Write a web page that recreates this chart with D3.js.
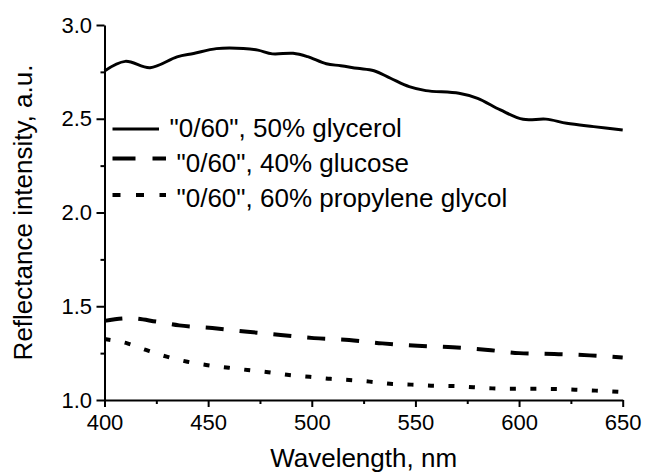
<!DOCTYPE html>
<html>
<head>
<meta charset="utf-8">
<script src="https://cdn.jsdelivr.net/npm/d3@7"></script>
<style>
  html, body { margin: 0; padding: 0; background: #fff; }
  svg { display: block; font-family: "Liberation Sans", Arial, sans-serif; }
</style>
</head>
<body>
<svg id="chart" width="645" height="474"></svg>
<script>
// ---- data ----
const glycerolWl = [400, 410, 422, 435, 443, 454, 467, 474, 481, 491, 498, 507, 514, 522, 530, 538, 547, 555, 571, 580, 591, 602, 613, 623, 636, 650];
const glycerolR  = [2.755, 2.806, 2.772, 2.830, 2.848, 2.874, 2.875, 2.866, 2.846, 2.849, 2.831, 2.793, 2.783, 2.769, 2.756, 2.716, 2.671, 2.650, 2.636, 2.609, 2.547, 2.497, 2.498, 2.476, 2.458, 2.440];

const glucoseWl = [400, 412, 425, 436, 452, 469, 485, 501, 518, 534, 551, 568, 585, 600, 617, 634, 650];
const glucoseR  = [1.422, 1.436, 1.418, 1.398, 1.384, 1.364, 1.347, 1.330, 1.320, 1.302, 1.289, 1.281, 1.267, 1.250, 1.245, 1.238, 1.226];

const propyleneWl = [400, 411, 420, 430, 440, 449, 460, 469, 479, 489, 499, 509, 518, 528, 539, 548, 559, 568, 578, 587, 597, 607, 617, 627, 637, 650];
const propyleneR  = [1.325, 1.302, 1.267, 1.231, 1.204, 1.187, 1.172, 1.160, 1.148, 1.133, 1.124, 1.113, 1.107, 1.098, 1.085, 1.082, 1.076, 1.075, 1.068, 1.062, 1.060, 1.060, 1.059, 1.055, 1.050, 1.042];

const seriesNames = ['"0/60", 50% glycerol', '"0/60", 40% glucose', '"0/60", 60% propylene glycol'];

const xMajorTicks = [400, 450, 500, 550, 600, 650];
const xMinorTicks = [425, 475, 525, 575, 625];
const yMajorTicks = [1.0, 1.5, 2.0, 2.5, 3.0];
const yMinorTicks = [1.25, 1.75, 2.25, 2.75];

const xTitle = "Wavelength, nm";
const yTitle = "Reflectance intensity, a.u.";

// ---- chart ----
const svg = d3.select("#chart");
const x = d3.scaleLinear().domain([400, 650]).range([104.5, 622.7]);
const y = d3.scaleLinear().domain([1.0, 3.0]).range([400, 25]);

function styleAxis(g) {
  g.selectAll("path.domain").attr("stroke", "#000").attr("stroke-width", 2);
  g.selectAll(".tick line").attr("stroke", "#000").attr("stroke-width", 2);
  g.selectAll(".tick text").attr("fill", "#000").attr("font-size", 22)
    .attr("font-family", '"Liberation Sans", Arial, sans-serif');
}

// x minor
svg.append("g").attr("transform", `translate(0,${y(1.0)})`)
  .call(d3.axisBottom(x).tickValues(xMinorTicks).tickSize(4).tickSizeOuter(0).tickFormat(""))
  .call(styleAxis).call(g => g.select("path.domain").remove());
// y minor
svg.append("g").attr("transform", `translate(${x(400)},0)`)
  .call(d3.axisLeft(y).tickValues(yMinorTicks).tickSize(4).tickSizeOuter(0).tickFormat(""))
  .call(styleAxis).call(g => g.select("path.domain").remove());
// x major
svg.append("g").attr("transform", `translate(0,${y(1.0)})`)
  .call(d3.axisBottom(x).tickValues(xMajorTicks).tickSize(7).tickSizeOuter(0).tickPadding(7).tickFormat(d3.format("d")))
  .call(styleAxis);
// y major
svg.append("g").attr("transform", `translate(${x(400)},0)`)
  .call(d3.axisLeft(y).tickValues(yMajorTicks).tickSize(8).tickSizeOuter(0).tickPadding(4.5).tickFormat(d3.format(".1f")))
  .call(styleAxis);

// axis titles
svg.append("text")
  .attr("x", (x(400) + x(650)) / 2).attr("y", 467)
  .attr("text-anchor", "middle").attr("font-size", 26).attr("fill", "#000")
  .text(xTitle);
svg.append("text")
  .attr("transform", `translate(32,${(y(1) + y(3)) / 2}) rotate(-90)`)
  .attr("text-anchor", "middle").attr("font-size", 26).attr("fill", "#000")
  .text(yTitle);

// lines
const mk = (wl, r) => wl.map((w, i) => ({ w, r: r[i] }));
const lineSmooth = d3.line().x(d => x(d.w)).y(d => y(d.r)).curve(d3.curveCatmullRom.alpha(0.5));
const lineMono = d3.line().x(d => x(d.w)).y(d => y(d.r)).curve(d3.curveMonotoneX);

svg.append("path").datum(mk(glycerolWl, glycerolR))
  .attr("d", lineSmooth).attr("fill", "none").attr("stroke", "#000")
  .attr("stroke-width", 3).attr("stroke-linejoin", "round");
svg.append("path").datum(mk(glucoseWl, glucoseR))
  .attr("d", lineMono).attr("fill", "none").attr("stroke", "#000")
  .attr("stroke-width", 4).attr("stroke-dasharray", "18,16");
svg.append("path").datum(mk(propyleneWl, propyleneR))
  .attr("d", lineMono).attr("fill", "none").attr("stroke", "#000")
  .attr("stroke-width", 4).attr("stroke-dasharray", "6,14.5");

// legend
const legendRows = [
  { name: seriesNames[0], ly: 129, ty: 137, tx: 169.5, x2: 159, width: 3, dash: null },
  { name: seriesNames[1], ly: 158.5, ty: 172, tx: 176.5, x2: 166, width: 4, dash: "23,17" },
  { name: seriesNames[2], ly: 195, ty: 207, tx: 176.5, x2: 166, width: 4, dash: "8,15.5" }
];
const lg = svg.append("g");
legendRows.forEach(r => {
  const l = lg.append("line").attr("x1", 112.5).attr("x2", r.x2).attr("y1", r.ly).attr("y2", r.ly)
    .attr("stroke", "#000").attr("stroke-width", r.width);
  if (r.dash) l.attr("stroke-dasharray", r.dash);
  lg.append("text").attr("x", r.tx).attr("y", r.ty).attr("font-size", 26).attr("fill", "#000").text(r.name);
});
</script>
</body>
</html>
